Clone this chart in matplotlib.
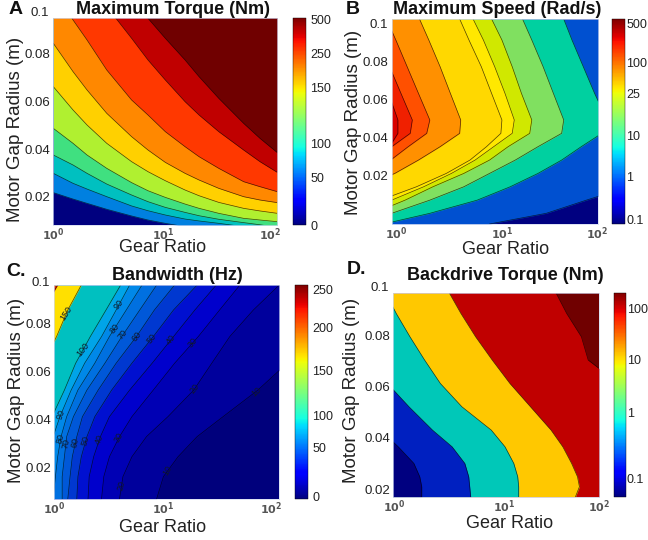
# Four contour panels, contour curves
import numpy as np
import matplotlib
matplotlib.use('Agg')
import matplotlib.pyplot as plt
from matplotlib.cm import ScalarMappable
from matplotlib.colors import Normalize

plt.rcParams['font.family'] = ['Liberation Sans', 'DejaVu Sans']

# Panel A: contour radius at each gear ratio, lowest contour first
a_gear = [1, 1.5, 2, 3, 5, 7, 10, 15, 20, 30, 50, 70, 100]
a_c1 = [.0217, .0190, .0172, .0147, .0119, .0102, .0088, .0074, .0060, .0045, .0030, .0020, .0010]
a_c2 = [.0298, .0256, .0232, .0200, .0161, .0141, .0123, .0106, .0098, .0088, .0074, .0060, .0046]
a_c3 = [.0375, .0333, .0298, .0253, .0207, .0179, .0155, .0134, .0120, .0105, .0091, .0082, .0071]
a_c4 = [.0487, .0424, .0375, .0319, .0259, .0225, .0197, .0169, .0151, .0130, .0109, .0102, .0095]
a_c5 = [.0662, .0564, .0501, .0424, .0347, .0305, .0267, .0228, .0204, .0176, .0151, .0140, .0130]
a_c6 = [.0844, .0725, .0648, .0550, .0452, .0396, .0344, .0298, .0270, .0235, .0200, .0186, .0175]
a_c7 = [.1082, .0942, .0858, .0732, .0606, .0543, .0473, .0410, .0368, .0319, .0263, .0242, .0221]
a_c8 = [.1396, .1194, .1096, .0998, .0865, .0774, .0690, .0599, .0543, .0473, .0396, .0347, .0302]
a_c9 = [.1446, .1334, .1264, .1166, .1054, .0949, .0865, .0774, .0704, .0613, .0508, .0445, .0385]

# Panel B: log10(gear ratio) of each contour at each radius, outermost first
b_radius = [.1021, .0911, .0771, .0631, .0492, .0422, .0352, .0282, .0212, .0142, .0072, .0003, -.0053]
b_c1 = [3, 3, 3, 3, 3, 3, 3, 3, 3, 2.3, 1.89, 1.50, .95]
b_c2 = [1.67, 1.75, 1.86, 1.97, 2.09, 2.04, 1.84, 1.65, 1.42, 1.15, .83, .37, -.08]
b_c3 = [1.27, 1.36, 1.47, 1.57, 1.67, 1.65, 1.42, 1.20, .95, .70, .37, 0, -.28]
b_c4 = [.97, 1.07, 1.17, 1.26, 1.36, 1.34, 1.13, .95, .70, .40, .13, -.18, -.40]
b_c5 = [.79, .89, 1.00, 1.10, 1.19, 1.17, .99, .81, .58, .31, 0, -.34, -.57]
b_c6 = [.66, .75, .87, .97, 1.07, 1.06, .92, .76, .53, .24, -.11, -.40, -.60]
b_c7 = [.27, .36, .47, .57, .67, .66, .47, .26, .03, -.28, -.53, -.76, -.92]
b_c8 = [-.05, .04, .15, .26, .37, .34, .16, -.01, -.21, -.44, -.60, -.76, -.92]
b_c9 = [-.22, -.13, -.02, .09, .20, .18, 0, -.18, -.34, -.50, -.66, -.82, -.95]
b_c10 = [-.30, -.22, -.12, -.03, .06, .06, -.02, -.30, -.50, -.66, -.82, -.95, -1]

# Panel C: log10(gear ratio) of each bandwidth contour at each radius
c_radius = [.0960, .0856, .0745, .0634, .0522, .0411, .0328, .0244, .0161, .0069]
c_10 = [2.92, 2.66, 2.36, 2.07, 1.81, 1.50, 1.27, 1.10, .97, .91]
c_20 = [2.00, 1.77, 1.56, 1.40, 1.24, 1.01, .82, .69, .61, .58]
c_30 = [1.65, 1.47, 1.28, 1.07, .88, .69, .58, .49, .44, .42]
c_40 = [1.44, 1.25, 1.06, .87, .67, .49, .41, .35, .31, .30]
c_50 = [1.27, 1.06, .88, .69, .51, .36, .29, .24, .21, .20]
c_60 = [1.07, .89, .73, .55, .39, .25, .20, .16, .14, .12]
c_70 = [.91, .76, .60, .45, .29, .17, .11, .09, .07, .07]
c_80 = [.78, .64, .49, .36, .21, .11, .06, .03, .01, -.01]
c_90 = [.67, .55, .42, .27, .15, .05, -.01, -.08, -.16, -.23]
c_100 = [.59, .46, .32, .19, .09, -.02, -.10, -.19, -.28, -.36]
c_150 = [.24, .12, .02, -.10, -.22, -.33, -.42, -.51, -.60, -.69]
c_200 = [.03, -.10, -.30, -.50, -.70, -.90, -1, -1, -1, -1]

# contour label: text, curve, radius, rotation
c_labels = [('150', c_150, .0842, 58), ('100', c_100, .0692, 52),
            ('90', c_90, .0877, 52), ('80', c_80, .0780, 52), ('70', c_70, .0752, 52),
            ('60', c_60, .0745, 52), ('50', c_50, .0738, 52), ('40', c_40, .0731, 52),
            ('30', c_30, .0720, 52), ('20', c_20, .0529, 52), ('10', c_10, .0516, 42),
            ('90', c_90, .0422, 70), ('80', c_80, .0321, 75), ('70', c_70, .0297, 78),
            ('60', c_60, .0303, 78), ('50', c_50, .0310, 75), ('40', c_40, .0317, 68),
            ('30', c_30, .0324, 62), ('20', c_20, .0126, 75), ('10', c_10, .0185, 62)]

# Panel D: log10(gear ratio) of each backdrive contour at each radius
d_radius = [.0966, .0885, .0794, .0703, .0612, .0521, .0430, .0365, .0300, .0248, .0209, .0170]
d_c1 = [-1.27, -1.10, -.94, -.78, -.62, -.36, -.13, .05, .21, .27, .29, .29]
d_c2 = [-.78, -.62, -.42, -.23, -.06, .16, .40, .60, .73, .77, .78, .79]
d_c3 = [-.08, .03, .17, .32, .48, .70, 1.00, 1.14, 1.23, 1.27, 1.28, 1.28]
d_c4 = [.57, .69, .84, 1.01, 1.19, 1.40, 1.61, 1.73, 1.82, 1.88, 1.90, 1.86]
d_c5 = [1.66, 1.77, 1.92, 1.99, 2.3, 3, 3, 3, 3, 3, 3, 3]

# Colorbar tick labels and where they sit along the bar (0 bottom, 1 top)
a_cb_labels = ['0', '50', '100', '150', '250', '500']
a_cb_pos = [0, .23, .392, .666, .83, .995]
b_cb_labels = ['0.1', '1', '10', '25', '100', '500']
b_cb_pos = [.02, .231, .434, .637, .787, .976]
c_cb_labels = ['0', '50', '100', '150', '200', '250']
c_cb_pos = [.0125, .24, .39, .60, .80, .98]
d_cb_labels = ['0.1', '1', '10', '100']
d_cb_pos = [.09, .412, .673, .923]

a_colors = ['#00007f', '#0080e0', '#00c0c0', '#40e080', '#b0f030', '#ffd000', '#ff8800', '#ff3800', '#c00000', '#700000']
b_colors = ['#000080', '#0050d0', '#00d0a0', '#80e060', '#d0e800', '#ffe800', '#ffd800', '#ff9000', '#ff5000', '#f02000', '#d80000']
c_colors = ['#00007c', '#00009c', '#0000b4', '#0000cc', '#0010d0', '#0038d0', '#0058d8', '#0070e0', '#0088e8', '#00a4e8', '#00c0c0', '#ffe000', '#e03000']
d_colors = ['#700000', '#c00000', '#ffc800', '#00c8b8', '#0020c0', '#000080']

W, H = 648, 540
fig = plt.figure(figsize=(W / 100, H / 100), dpi=100)


def px_axes(x0, y0, x1, y1):
    return fig.add_axes([x0 / W, 1 - y1 / H, (x1 - x0) / W, (y1 - y0) / H])


def px_text(x, y, s, **kw):
    fig.text(x / W, 1 - y / H, s, ha='center', va='center', **kw)


def setup(ax, ylim, yticks, ylabels, xticks):
    ax.set_xscale('log')
    ax.set_xlim(1, 100)
    ax.set_ylim(*ylim)
    ax.set_yticks(yticks)
    ax.set_yticklabels(ylabels, fontsize=9.5, color='#222222')
    ax.set_xticks(xticks)
    ax.set_xticklabels([r'$\mathbf{10^{0}}$', r'$\mathbf{10^{1}}$', r'$\mathbf{10^{2}}$'], fontsize=8, color='#555555')
    ax.minorticks_off()
    ax.tick_params(length=0, axis='y', pad=2.5)
    ax.tick_params(length=0, axis='x', pad=1)
    for s in ax.spines.values():
        s.set_linewidth(0.5)
        s.set_color('#d0d8f0')


def colorbar(x0, y0, x1, y1, pos, labels, pad=3):
    cax = px_axes(x0, y0, x1, y1)
    cb = fig.colorbar(ScalarMappable(Normalize(0, 1), 'jet'), cax=cax)
    cb.set_ticks(pos)
    cb.set_ticklabels(labels, fontsize=9, color='#222222')
    cb.ax.tick_params(length=0, pad=pad)
    cb.outline.set_linewidth(0.3)


def paint_left(ax, radius, curves, colors, lw=0.5):
    # backdrop is the rightmost colour, each curve paints everything to its left
    ax.set_facecolor(colors[0])
    for curve, color in zip(curves, colors[1:]):
        ax.fill_betweenx(radius, 0.01, 10.0 ** np.array(curve), color=color, lw=0)
    for curve in curves:
        ax.plot(10.0 ** np.array(curve), radius, color='k', lw=lw, alpha=0.7)


# A
ax = px_axes(53.3, 18.3, 277.3, 225)
setup(ax, (.0081, .0949), [.02, .04, .06, .08], ['0.02', '0.04', '0.06', '0.08'], [1, 9.6, 86])
ax.set_facecolor(a_colors[0])
a_curves = [a_c1, a_c2, a_c3, a_c4, a_c5, a_c6, a_c7, a_c8, a_c9]
for curve, color in zip(a_curves, a_colors[1:]):
    ax.fill_between(a_gear, curve, 0.2, color=color, lw=0)
for curve in a_curves:
    ax.plot(a_gear, curve, color='k', lw=0.5, alpha=0.7)
ax.text(-.02, 1.024, '0.1', transform=ax.transAxes, ha='right', va='center', fontsize=9.5, color='#222222')
colorbar(293, 18.3, 306, 225, a_cb_pos, a_cb_labels)

# B
ax = px_axes(391.7, 19, 597.7, 224)
setup(ax, (-.0053, .1021), [.02, .04, .06, .08, .1], ['0.02', '0.04', '0.06', '0.08', '0.1'], [1.1, 11.8, 98])
paint_left(ax, b_radius, [b_c1, b_c2, b_c3, b_c4, b_c5, b_c6, b_c7, b_c8, b_c9, b_c10], b_colors)
colorbar(612, 19, 625, 224, b_cb_pos, b_cb_labels, pad=1)

# C
ax = px_axes(54.3, 285, 279.3, 498.7)
setup(ax, (.0069, .0960), [.02, .04, .06, .08], ['0.02', '0.04', '0.06', '0.08'], [1, 9.3, 85])
c_curves = [c_10, c_20, c_30, c_40, c_50, c_60, c_70, c_80, c_90, c_100, c_150, c_200]
paint_left(ax, c_radius, c_curves, c_colors)
for text, curve, r, rot in c_labels:
    lg = np.interp(r, c_radius[::-1], curve[::-1])
    ax.text(10 ** lg, r, text, fontsize=6.5, color='#101828', rotation=rot, ha='center', va='center')
ax.text(-.02, 1.011, '0.1', transform=ax.transAxes, ha='right', va='center', fontsize=9.5, color='#222222')
colorbar(295, 285, 308, 498.7, c_cb_pos, c_cb_labels)

# D
ax = px_axes(393.3, 292.7, 598.7, 496.7)
setup(ax, (.0170, .0966), [.02, .04, .06, .08], ['0.02', '0.04', '0.06', '0.08'], [1.03, 13.7, 125])
ax.xaxis.get_ticklabels()[2].set_clip_on(False)
paint_left(ax, d_radius, [d_c5, d_c4, d_c3, d_c2, d_c1], d_colors)
ax.text(-.02, 1.021, '0.1', transform=ax.transAxes, ha='right', va='center', fontsize=9.5, color='#222222')
colorbar(614, 292.7, 625.5, 496.7, d_cb_pos, d_cb_labels, pad=1)

# Titles, axis labels and panel letters
for x, y, s in [(173, 9, 'Maximum Torque (Nm)'), (497, 10, 'Maximum Speed (Rad/s)'),
                (177, 276, 'Bandwidth (Hz)'), (505, 276, 'Backdrive Torque (Nm)')]:
    px_text(x, y, s, fontsize=13, fontweight='bold', color='#111111')
for x, y in [(163, 248), (506, 249), (163, 527), (510, 524)]:
    px_text(x, y, 'Gear Ratio', fontsize=13, color='#222222')
for x, y in [(16, 129), (353, 122), (17, 390), (351, 390)]:
    px_text(x, y, 'Motor Gap Radius (m)', fontsize=13.5, rotation=90, color='#222222')
for x, y, s in [(16, 10, 'A'), (353, 10, 'B'), (16, 271, 'C.'), (357, 270, 'D.')]:
    px_text(x, y, s, fontsize=14, fontweight='bold', color='#111111')

fig.savefig('out.png', dpi=100)
